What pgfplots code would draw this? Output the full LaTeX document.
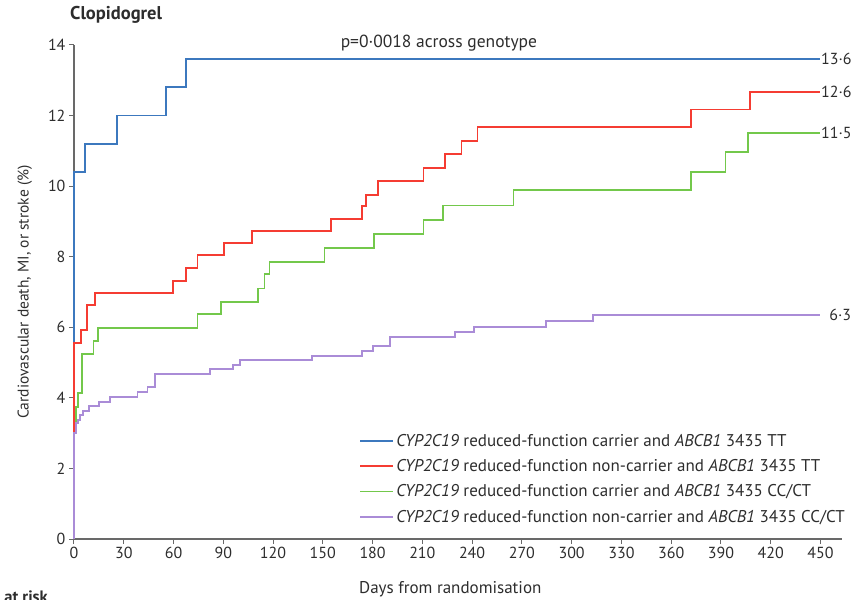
\documentclass[border=0pt]{standalone}
\usepackage{fontspec}
\setmainfont{PT Sans}
\usepackage{pgfplots}
\pgfplotsset{compat=1.18}
\definecolor{cblue}{RGB}{60,120,190}
\definecolor{cred}{RGB}{245,60,50}
\definecolor{cgreen}{RGB}{115,200,75}
\definecolor{cpurple}{RGB}{170,140,215}
\definecolor{axgray}{RGB}{105,105,105}
\definecolor{txtgray}{RGB}{45,45,45}
\begin{document}
\begin{tikzpicture}[x=1pt,y=1pt,font=\fontsize{16}{19}\selectfont]
\useasboundingbox (-74,-60) rectangle (787,539);
\begin{axis}[
  at={(0pt,0pt)}, anchor=south west,
  width=768pt, height=494pt, scale only axis,
  xmin=0, xmax=463, ymin=0, ymax=14,
  axis lines*=left,
  axis line style={axgray, line width=1.1pt},
  tick style={axgray, line width=1pt},
  tick align=outside, major tick length=5pt,
  xtick={0,30,...,450}, ytick={0,2,...,14},
  /pgf/number format/assume math mode=true,
  ticklabel style={text=txtgray, font=\fontsize{16}{19}\selectfont},
  clip=false,
  xlabel={Days from randomisation},
  ylabel={Cardiovascular death, MI, or stroke (\%)},
  every axis x label/.style={at={(axis description cs:0.49,0)}, yshift=-50pt, anchor=center, text=txtgray, font=\fontsize{17}{20}\selectfont},
  every axis y label/.style={at={(axis description cs:-0.064,0.5)}, rotate=90, anchor=center, text=txtgray, font=\fontsize{15.5}{18}\selectfont},
  legend style={at={(axis cs:172,3.04)}, anchor=north west, draw=none, fill=none,
    font=\fontsize{17}{19}\selectfont, text=txtgray, row sep=7.8pt, inner sep=0pt},
  legend cell align=left,
  legend image code/.code={\draw[#1, line width=1.8pt] (0pt,0pt) -- (33pt,0pt);},
]
\addplot[const plot, cblue, line width=1.8pt] coordinates {
(0,0)(0,10.4)(6.6,11.2)(25.8,12.0)(55.6,12.8)(67.7,13.6)(450,13.6)};
\addlegendentry{\textit{CYP2C19} reduced-function carrier and \textit{ABCB1} 3435 TT}
\addplot[const plot, cred, line width=1.8pt] coordinates {
(0,0)(0,5.56)(4.2,5.92)(7.6,6.63)(12.7,6.98)(59.6,7.32)(67.7,7.67)(74.5,8.05)(90.2,8.38)(107.4,8.72)(154.7,9.08)(173.8,9.43)(175.8,9.76)(183.5,10.15)(210.7,10.52)(223.6,10.91)(233.6,11.28)(243.3,11.68)(372,12.17)(407.4,12.67)(450,12.67)};
\addlegendentry{\textit{CYP2C19} reduced-function non-carrier and \textit{ABCB1} 3435 TT}
\addplot[const plot, cgreen, line width=1.8pt] coordinates {
(0,0)(0,3.0)(1.2,3.75)(2.2,4.13)(4.6,5.24)(11.7,5.62)(14.7,5.99)(74.5,6.37)(88.8,6.72)(110.8,7.1)(114.8,7.5)(117.8,7.86)(151,8.25)(180.9,8.64)(210.7,9.04)(222.5,9.45)(265,9.88)(372,10.4)(392.7,10.96)(406.4,11.51)(450,11.51)};
\addlegendentry{\textit{CYP2C19} reduced-function carrier and \textit{ABCB1} 3435 CC/CT}
\addplot[const plot, cpurple, line width=1.8pt] coordinates {
(0,0)(0,3.0)(1.2,3.28)(2.6,3.37)(3.6,3.51)(5.2,3.63)(9.2,3.77)(15.3,3.89)(21.8,4.03)(38.3,4.16)(44.3,4.3)(49,4.67)(81.8,4.81)(95.9,4.93)(100.3,5.07)(143.6,5.19)(173.4,5.33)(180.2,5.47)(190.5,5.73)(229.6,5.87)(241.3,6.01)(284.6,6.17)(312.8,6.34)(450,6.34)};
\addlegendentry{\textit{CYP2C19} reduced-function non-carrier and \textit{ABCB1} 3435 CC/CT}
\node[anchor=west, text=txtgray, inner sep=0.5pt] at (axis cs:450,13.6) {13·6};
\node[anchor=west, text=txtgray, inner sep=0.5pt] at (axis cs:450,12.67) {12·6};
\node[anchor=west, text=txtgray, inner sep=0.5pt] at (axis cs:450,11.51) {11·5};
\node[anchor=west, text=txtgray, inner sep=0.5pt] at (axis cs:455,6.34) {6·3};
\node[anchor=center, text=txtgray, font=\fontsize{17.5}{20}\selectfont] at (axis cs:220,14.05) {p=0·0018 across genotype};
\end{axis}
\node[anchor=west, inner sep=0pt, text=txtgray, font=\fontsize{18.5}{22}\selectfont] at (-4,524) {\bfseries Clopidogrel};
\node[anchor=north east, inner sep=0pt, text=txtgray, font=\fontsize{16.5}{19}\selectfont] at (-26,-52) {\bfseries Number at risk};
\end{tikzpicture}
\end{document}
